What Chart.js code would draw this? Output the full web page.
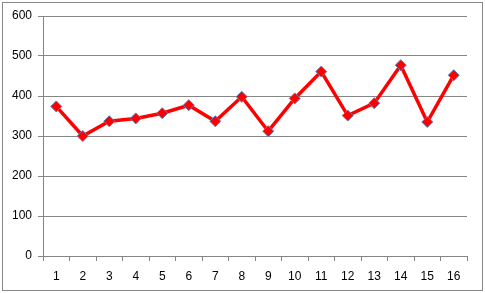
<!DOCTYPE html>
<html>
<head>
<meta charset="utf-8">
<script src="https://cdn.jsdelivr.net/npm/chart.js@4"></script>
<style>
  html, body { margin: 0; padding: 0; background: #fff; }
  #wrap { position: relative; width: 485px; height: 293px; }
  #frame {
    position: absolute; left: 2px; top: 2px; width: 479px; height: 287px;
    border: 1px solid #868686; pointer-events: none;
  }
</style>
</head>
<body>
<div id="wrap">
  <canvas id="chart" width="485" height="293"></canvas>
  <div id="frame"></div>
</div>
<script>
  var categories = ['1', '2', '3', '4', '5', '6', '7', '8', '9', '10', '11', '12', '13', '14', '15', '16'];
  var values = [374, 300, 337, 344, 357, 377, 337, 398, 312, 394, 461, 351, 382, 477, 335, 452];
  var yTicks = [0, 100, 200, 300, 400, 500, 600];

  var axisGrey = '#868686';
  var font = { family: 'Liberation Sans, Arial, sans-serif', size: 12 };

  var ctx = document.getElementById('chart').getContext('2d');
  new Chart(ctx, {
    type: 'line',
    data: {
      labels: categories,
      datasets: [{
        data: values,
        borderColor: '#ff0000',
        borderWidth: 3.5,
        tension: 0,
        pointStyle: 'rectRot',
        pointRadius: 5.5,
        pointBackgroundColor: '#ff0000',
        pointBorderColor: '#5b7fb8',
        pointBorderWidth: 1
      }]
    },
    options: {
      responsive: false,
      animation: false,
      layout: { padding: { left: 0, right: 18, top: 16, bottom: 0 } },
      plugins: { legend: { display: false }, tooltip: { enabled: false } },
      scales: {
        x: {
          offset: true,
          grid: {
            offset: true,
            drawOnChartArea: false,
            color: axisGrey,
            tickLength: 5
          },
          border: { color: axisGrey, width: 1 },
          ticks: { color: '#000', font: font, padding: 8, maxRotation: 0 },
          afterFit: function (scale) { scale.height = 37; }
        },
        y: {
          min: 0,
          max: 600,
          afterBuildTicks: function (scale) {
            scale.ticks = yTicks.map(function (v) { return { value: v }; });
          },
          grid: { color: axisGrey, tickLength: 5 },
          border: { color: axisGrey, width: 1 },
          ticks: { color: '#000', font: font, padding: 6 },
          afterFit: function (scale) { scale.width = 43; }
        }
      }
    }
  });
</script>
</body>
</html>
